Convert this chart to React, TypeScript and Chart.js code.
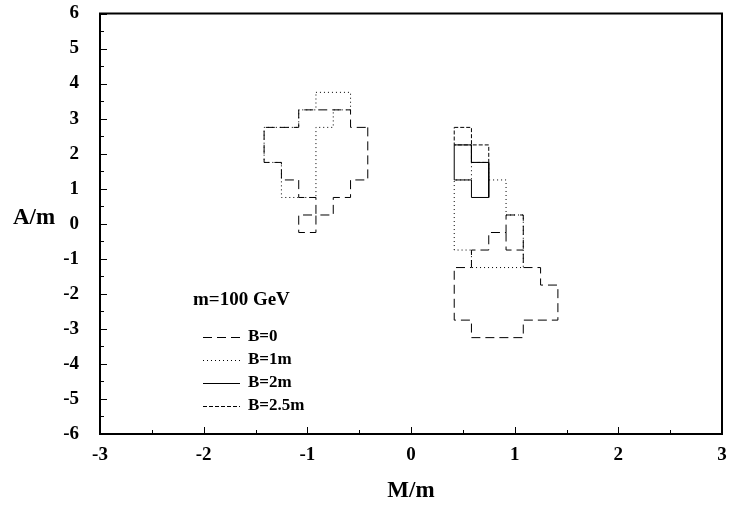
import React, { useEffect, useRef } from 'react';
import { Chart, registerables } from 'chart.js';
Chart.register(...registerables);

// Axis ticks
const xTickValues = [-3, -2, -1, 0, 1, 2, 3];
const yTickValues = [-6, -5, -4, -3, -2, -1, 0, 1, 2, 3, 4, 5, 6];
const xTitle = 'M/m';
const yTitle = 'A/m';

// Legend
const legendTitle = 'm=100 GeV';
const seriesLabels = ['B=0', 'B=1m', 'B=2m', 'B=2.5m'];

// B=0 contours
const b0LeftX = [-0.417, -0.417, -0.583, -0.583, -0.75, -0.75, -0.917, -0.917, -1.083, -1.083, -0.917, -0.917, -1.083, -1.083, -1.25, -1.25, -1.417, -1.417, -1.083, -1.083, -0.583, -0.583, -0.417];
const b0LeftY = [2.75, 1.25, 1.25, 0.75, 0.75, 0.25, 0.25, -0.25, -0.25, 0.25, 0.25, 0.75, 0.75, 1.25, 1.25, 1.75, 1.75, 2.75, 2.75, 3.25, 3.25, 2.75, 2.75];
const b0RightX = [0.917, 1.083, 1.083, 1.25, 1.25, 1.417, 1.417, 1.083, 1.083, 0.583, 0.583, 0.417, 0.417, 0.583, 0.583, 0.75, 0.75, 0.917, 0.917];
const b0RightY = [0.25, 0.25, -1.25, -1.25, -1.75, -1.75, -2.75, -2.75, -3.25, -3.25, -2.75, -2.75, -1.25, -1.25, -0.75, -0.75, -0.25, -0.25, 0.25];
const b0InnerX = [0.917, 0.917, 1.083];
const b0InnerY = [-0.25, -0.75, -0.75];

// B=1m contours
const b1LeftX = [-0.917, -0.583, -0.583, -0.75, -0.75, -0.917, -0.917, -1.25, -1.25, -1.417, -1.417, -1.083, -1.083, -0.917, -0.917];
const b1LeftY = [3.75, 3.75, 3.25, 3.25, 2.75, 2.75, 0.75, 0.75, 1.75, 1.75, 2.75, 2.75, 3.25, 3.25, 3.75];
const b1RightX = [0.417, 0.417, 0.583, 0.583, 0.75, 0.75, 0.917, 0.917, 1.083, 1.083, 0.583, 0.583, 0.417];
const b1RightY = [-0.75, 1.25, 1.25, 1.75, 1.75, 1.25, 1.25, 0.25, 0.25, -1.25, -1.25, -0.75, -0.75];

// B=2m contour
const b2RightX = [0.417, 0.583, 0.583, 0.75, 0.75, 0.583, 0.583, 0.417, 0.417];
const b2RightY = [2.25, 2.25, 1.75, 1.75, 0.75, 0.75, 1.25, 1.25, 2.25];

// B=2.5m contour
const b25RightX = [0.417, 0.583, 0.583, 0.75, 0.75, 0.583, 0.583, 0.417, 0.417];
const b25RightY = [2.75, 2.75, 2.25, 2.25, 1.75, 1.75, 2.25, 2.25, 2.75];

const seriesDashes = [[9, 5], [1, 3], [], [4, 2]];

const pieces = [
  { s: 0, xs: b0LeftX, ys: b0LeftY },
  { s: 0, xs: b0RightX, ys: b0RightY },
  { s: 0, xs: b0InnerX, ys: b0InnerY },
  { s: 1, xs: b1LeftX, ys: b1LeftY },
  { s: 1, xs: b1RightX, ys: b1RightY },
  { s: 2, xs: b2RightX, ys: b2RightY },
  { s: 3, xs: b25RightX, ys: b25RightY },
];

const FONT = "'Liberation Serif', 'Times New Roman', serif";

const framePlugin = {
  id: 'frameAndLegend',
  afterDraw(chart: any) {
    const { ctx, chartArea: a, scales } = chart;
    const xs = scales.x, ys = scales.y;
    ctx.save();
    ctx.strokeStyle = '#000';
    ctx.fillStyle = '#000';
    ctx.setLineDash([]);
    // inner ticks
    ctx.lineWidth = 1;
    for (let v = -3; v <= 3.001; v += 0.5) {
      const px = Math.round(xs.getPixelForValue(v)) + 0.5;
      const len = Math.abs(v - Math.round(v)) < 1e-6 ? 7 : 4;
      ctx.beginPath(); ctx.moveTo(px, a.bottom); ctx.lineTo(px, a.bottom - len); ctx.stroke();
    }
    for (let v = -6; v <= 6.001; v += 0.5) {
      const py = Math.round(ys.getPixelForValue(v)) + 0.5;
      const len = Math.abs(v - Math.round(v)) < 1e-6 ? 7 : 4;
      ctx.beginPath(); ctx.moveTo(a.left, py); ctx.lineTo(a.left + len, py); ctx.stroke();
    }
    // frame
    ctx.lineWidth = 2;
    ctx.strokeRect(a.left, a.top, a.right - a.left, a.bottom - a.top);
    // tick labels
    ctx.font = `bold 19px ${FONT}`;
    ctx.textBaseline = 'middle';
    ctx.textAlign = 'center';
    xTickValues.forEach((v) => ctx.fillText(String(v), xs.getPixelForValue(v), a.bottom + 21));
    ctx.textAlign = 'right';
    yTickValues.forEach((v) => ctx.fillText(String(v), a.left - 21, ys.getPixelForValue(v)));
    // axis titles
    ctx.font = `bold 23px ${FONT}`;
    ctx.textAlign = 'center';
    ctx.fillText(xTitle, (a.left + a.right) / 2, a.bottom + 57);
    ctx.textAlign = 'left';
    ctx.fillText(yTitle, 13, ys.getPixelForValue(0) - 6);
    // legend
    const lx = a.left + 93;
    ctx.font = `bold 19px ${FONT}`;
    ctx.fillText(legendTitle, lx, a.top + 287);
    ctx.font = `bold 17px ${FONT}`;
    seriesLabels.forEach((lab, i) => {
      const y = a.top + 323 + i * 23;
      ctx.lineWidth = 1;
      ctx.setLineDash(seriesDashes[i]);
      ctx.beginPath();
      ctx.moveTo(lx + 10, Math.round(y) + 0.5);
      ctx.lineTo(lx + 47, Math.round(y) + 0.5);
      ctx.stroke();
      ctx.setLineDash([]);
      ctx.fillText(lab, lx + 55, y);
    });
    ctx.restore();
  },
};

export default function App() {
  const ref = useRef<HTMLCanvasElement>(null);
  useEffect(() => {
    document.body.style.margin = '0';
    const datasets = pieces.map((p) => ({
      label: seriesLabels[p.s],
      data: p.xs.map((x, i) => ({ x, y: p.ys[i] })),
      showLine: true,
      fill: false,
      tension: 0,
      pointRadius: 0,
      borderColor: '#000',
      borderWidth: 1,
      borderDash: seriesDashes[p.s],
    }));
    const chart = new Chart(ref.current!, {
      type: 'scatter',
      data: { datasets },
      options: {
        animation: false,
        responsive: false,
        layout: { padding: { top: 13.5, right: 8, left: 100, bottom: 74 } },
        plugins: { legend: { display: false }, tooltip: { enabled: false } },
        scales: {
          x: { type: 'linear', min: -3, max: 3, display: false },
          y: { type: 'linear', min: -6, max: 6, display: false },
        },
      },
      plugins: [framePlugin],
    } as any);
    return () => chart.destroy();
  }, []);
  return (
    <div style={{ width: 730, height: 508 }}>
      <canvas ref={ref} width={730} height={508} />
    </div>
  );
}
